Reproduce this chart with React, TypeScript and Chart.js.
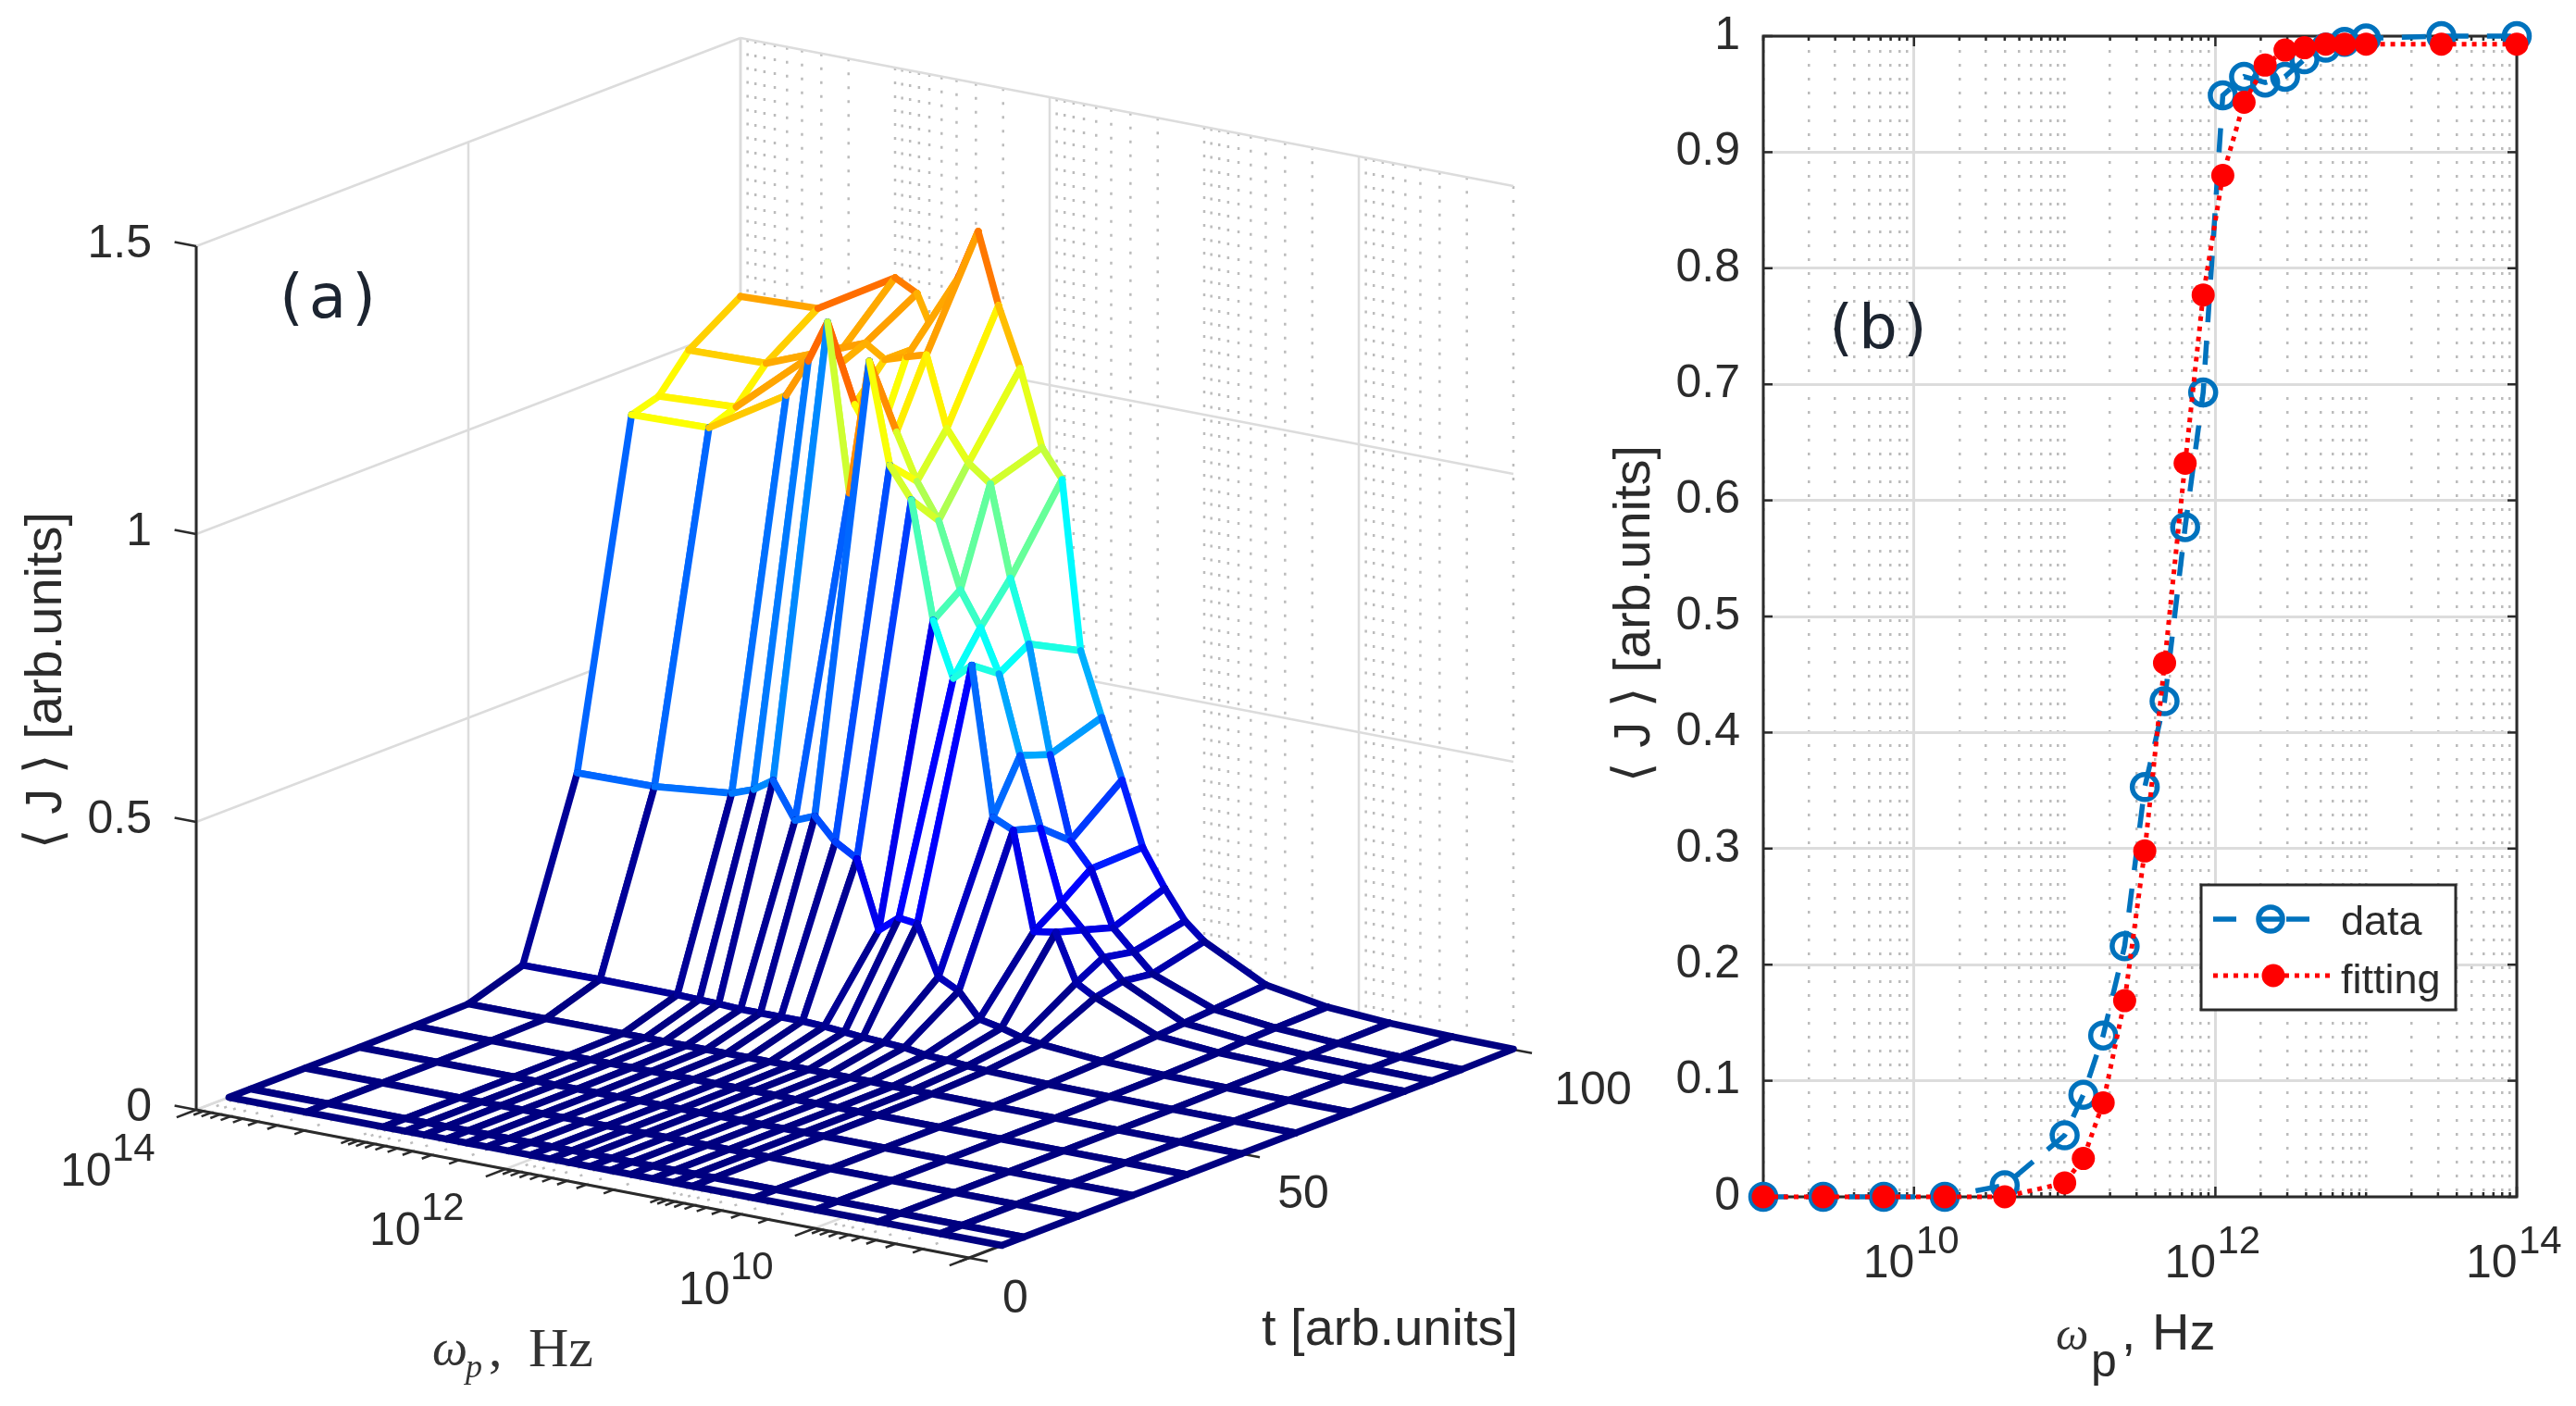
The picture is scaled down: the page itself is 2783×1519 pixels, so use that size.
import React, { useEffect, useRef } from "react";
import { Chart, registerables } from "chart.js";

Chart.register(...registerables);

// ---------- data ----------
const wpHz = [1e9, 2.5e9, 6.3e9, 1.6e10, 4e10, 1e11, 1.33e11, 1.8e11, 2.5e11, 3.4e11, 4.6e11, 6.3e11, 8.3e11, 1.12e12, 1.55e12, 2.14e12, 2.9e12, 3.9e12, 5.4e12, 7.2e12, 1e13, 3.16e13, 1e14];
const tRows = [6, 10, 20, 30, 40, 50, 60, 70, 80, 85, 90.5, 100];

const jT6 = [0, 0, 0, 0, 0, 0, 0, 0, 0, 0, 0, 0, 0, 0, 0, 0, 0, 0, 0, 0, 0, 0, 0];
const jT10 = [0, 0, 0, 0, 0, 0, 0, 0, 0, 0, 0, 0, 0, 0, 0, 0, 0, 0, 0, 0, 0, 0, 0];
const jT20 = [0, 0, 0, 0, 0, 0, 0, 0, 0, 0, 0, 0, 0, 0, 0, 0, 0, 0, 0, 0, 0, 0, 0];
const jT30 = [0, 0, 0, 0, 0, 0, 0, 0, 0, 0, 0, 0, 0, 0, 0, 0, 0, 0, 0, 0, 0, 0, 0];
const jT40 = [0, 0, 0, 0, 0, 0, 0, 0, 0, 0, 0.001, 0.001, 0.001, 0.001, 0.001, 0.001, 0.001, 0.001, 0.001, 0.001, 0.001, 0.001, 0.001];
const jT50 = [0, 0, 0, 0, 0, 0.001, 0.001, 0.001, 0.002, 0.002, 0.002, 0.002, 0.003, 0.003, 0.003, 0.003, 0.003, 0.003, 0.003, 0.003, 0.003, 0.003, 0.003];
const jT60 = [0, 0, 0, 0.001, 0.002, 0.005, 0.007, 0.01, 0.012, 0.018, 0.02, 0.022, 0.025, 0.028, 0.03, 0.03, 0.03, 0.03, 0.032, 0.033, 0.034, 0.035, 0.034];
const jT70 = [0, 0, 0.001, 0.002, 0.006, 0.015, 0.02, 0.03, 0.038, 0.08, 0.098, 0.183, 0.187, 0.159, 0.276, 0.298, 0.336, 0.322, 0.384, 0.362, 0.348, 0.334, 0.332];
const jT80 = [0, 0, 0.002, 0.005, 0.014, 0.06, 0.079, 0.16, 0.154, 0.323, 0.339, 0.596, 0.567, 0.661, 0.863, 0.916, 1.09, 0.854, 1.144, 1.07, 1.003, 0.921, 0.918];
const jT85 = [0, 0.001, 0.003, 0.008, 0.018, 0.07, 0.105, 0.146, 0.186, 0.309, 0.428, 0.563, 0.637, 0.696, 0.809, 0.87, 0.949, 0.92, 0.983, 1.04, 1.056, 0.939, 0.932];
const jT90 = [0, 0.001, 0.004, 0.01, 0.022, 0.063, 0.095, 0.13, 0.225, 0.267, 0.41, 0.595, 0.703, 0.86, 0.889, 0.942, 1.063, 1.053, 1.041, 1.063, 1.048, 0.995, 0.992];
const jT100 = [0.001, 0.002, 0.005, 0.012, 0.03, 0.085, 0.114, 0.164, 0.228, 0.338, 0.44, 0.549, 0.84, 0.889, 1.019, 1.121, 1.243, 1.156, 1.04, 1.115, 1.135, 1.056, 1.051];
const surfaceJ = [jT6, jT10, jT20, jT30, jT40, jT50, jT60, jT70, jT80, jT85, jT90, jT100];

const dataValues = [0, 0, 0, 0, 0.01, 0.053, 0.088, 0.139, 0.216, 0.353, 0.427, 0.577, 0.693, 0.949, 0.965, 0.96, 0.965, 0.98, 0.99, 0.995, 0.998, 1, 1];
const fittingValues = [0, 0, 0, 0, 0, 0.012, 0.033, 0.081, 0.169, 0.298, 0.46, 0.632, 0.777, 0.88, 0.943, 0.975, 0.988, 0.99, 0.993, 0.993, 0.993, 0.993, 0.993];

const zTicks = [0, 0.5, 1, 1.5];
const zLabels = ["0", "0.5", "1", "1.5"];
const tTicks = [0, 50, 100];
const majorExponents = [14, 12, 10];
const minorMantissas = [2, 3, 4, 5, 6, 7, 8, 9];
const minorDecades = [9, 10, 11, 12, 13];

const SANS = '"Liberation Sans", Arial, sans-serif';
const SERIF = '"Liberation Serif", serif';
const DEJA = '"DejaVu Sans", sans-serif';
const INK = "#2b2b2b";
const GRID = "#dcdcdc";
const DOT = "#bcbcbc";

// ---------- 3-D view (orthographic) ----------
const px = (lg: number, t: number) => 212 + (835 * (14 - lg)) / 5 + 5.88 * t;
const py = (lg: number, t: number, j: number) => 1199 + (160 * (14 - lg)) / 5 - 2.25 * t - 622 * j;
const P = (lg: number, t: number, j: number) => ({ x: px(lg, t), y: py(lg, t, j) });

function jet(v: number) {
  const p = Math.max(0, Math.min(1, v / 1.48));
  const c = (d: number) => Math.round(255 * Math.max(0, Math.min(1, 1.5 - Math.abs(4 * p - d))));
  return `rgb(${c(3)},${c(2)},${c(1)})`;
}

function line3d(points: any[], color: string, width: number, dash: number[] = []) {
  return { data: points, showLine: true, borderColor: color, borderWidth: width, borderDash: dash, pointRadius: 0, fill: false, clip: false };
}

function buildLeftDatasets() {
  const out: any[] = [];
  const majors = [14, 12, 10];
  const minors: number[] = [];
  minorDecades.forEach((e) => minorMantissas.forEach((m) => minors.push(e + Math.log10(m))));
  minors.push(9, 11, 13);

  // minor dotted: back wall and floor
  minors.forEach((lg) => {
    out.push(line3d([P(lg, 100, 0), P(lg, 100, 1.5)], DOT, 2.5, [3, 12]));
    out.push(line3d([P(lg, 0, 0), P(lg, 100, 0)], DOT, 2.5, [3, 12]));
  });
  // major verticals on the back wall + floor
  majors.forEach((lg) => {
    out.push(line3d([P(lg, 100, 0), P(lg, 100, 1.5)], GRID, 2.5));
    out.push(line3d([P(lg, 0, 0), P(lg, 100, 0)], GRID, 2.5));
  });
  // z grid on both walls
  zTicks.forEach((z) => {
    out.push(line3d([P(14, 0, z), P(14, 100, z)], GRID, 2.5));
    out.push(line3d([P(14, 100, z), P(9, 100, z)], GRID, 2.5));
  });
  // t grid on the left wall and floor
  tTicks.forEach((t) => {
    out.push(line3d([P(14, t, 0), P(14, t, 1.5)], GRID, 2.5));
    out.push(line3d([P(14, t, 0), P(9, t, 0)], GRID, 2.5));
  });
  // axis lines
  out.push(line3d([P(14, 0, 0), P(14, 0, 1.5)], INK, 3));
  out.push(line3d([P(14, 0, 0), P(9, 0, 0)], INK, 3));
  out.push(line3d([P(9, 0, 0), P(9, 100, 0)], INK, 3));
  // ticks
  zTicks.forEach((z) => out.push(line3d([P(14, 0, z), P(14.14, 0, z)], INK, 2.5)));
  tTicks.forEach((t) => out.push(line3d([P(9, t, 0), P(8.88, t, 0)], INK, 2.5)));
  [...majors, 9].forEach((lg) => out.push(line3d([P(lg, 0, 0), P(lg, -3.6, 0)], INK, 2.5)));
  minors.forEach((lg) => out.push(line3d([P(lg, 0, 0), P(lg, -1.8, 0)], INK, 2.5)));

  // mesh cells, back to front, white faces hide what is behind them
  const lg = wpHz.map((v) => Math.log10(v));
  for (let i = tRows.length - 2; i >= 0; i--) {
    for (let k = wpHz.length - 2; k >= 0; k--) {
      const pts = [
        P(lg[k], tRows[i], surfaceJ[i][k]),
        P(lg[k + 1], tRows[i], surfaceJ[i][k + 1]),
        P(lg[k + 1], tRows[i + 1], surfaceJ[i + 1][k + 1]),
        P(lg[k], tRows[i + 1], surfaceJ[i + 1][k]),
        P(lg[k], tRows[i], surfaceJ[i][k]),
      ];
      const colors = [jet(surfaceJ[i][k]), jet(surfaceJ[i][k + 1]), jet(surfaceJ[i + 1][k]), jet(surfaceJ[i][k])];
      out.push({
        data: pts,
        showLine: true,
        cell: true,
        borderWidth: 7.5,
        borderColor: colors[0],
        borderJoinStyle: "round",
        borderCapStyle: "round",
        pointRadius: 0,
        fill: false,
        clip: false,
        segment: { borderColor: (ctx: any) => colors[ctx.p0DataIndex] },
      });
    }
  }
  // chart.js paints the highest index first
  return out.reverse();
}

function text(ctx: any, s: string, x: number, y: number, font: string, opts: any = {}) {
  ctx.save();
  ctx.font = font;
  ctx.fillStyle = opts.color || INK;
  ctx.textAlign = opts.align || "left";
  ctx.textBaseline = opts.baseline || "alphabetic";
  if (opts.spacing) ctx.letterSpacing = opts.spacing;
  if (opts.rotate) {
    ctx.translate(x, y);
    ctx.rotate(opts.rotate);
    ctx.fillText(s, 0, 0);
  } else {
    ctx.fillText(s, x, y);
  }
  ctx.restore();
}

const leftPlugin = {
  id: "leftView",
  beforeDatasetDraw(chart: any, args: any) {
    const ds = chart.data.datasets[args.index];
    if (!ds.cell) return;
    const ctx = chart.ctx;
    ctx.save();
    ctx.beginPath();
    args.meta.data.forEach((p: any, i: number) => (i ? ctx.lineTo(p.x, p.y) : ctx.moveTo(p.x, p.y)));
    ctx.closePath();
    ctx.fillStyle = "#ffffff";
    ctx.fill();
    ctx.restore();
  },
  afterDraw(chart: any) {
    const ctx = chart.ctx;
    const f = `50px ${SANS}`;
    zTicks.forEach((z, i) => {
      text(ctx, zLabels[i], 164, py(14, 0, z) - 2, f, { align: "right", baseline: "middle" });
    });
    majorExponents.forEach((e) => {
      const x = px(e, 0) - 147;
      const y = py(e, 0, 0) + 82;
      text(ctx, "10", x, y, f);
      text(ctx, String(e), x + 56, y - 27, `42px ${SANS}`);
    });
    tTicks.forEach((t) => {
      text(ctx, String(t), px(9, t) + (t === 100 ? 86 : t === 50 ? 67 : 50), py(9, t, 0) + 45, f, { align: "center", baseline: "middle" });
    });
    text(ctx, "t [arb.units]", 1363, 1453, `56px ${SANS}`);
    text(ctx, "\u27E8 J \u27E9 [arb.units]", 66, 735, `56px ${SANS}, ${DEJA}`, { rotate: -Math.PI / 2, align: "center" });
    text(ctx, "\u03C9", 467, 1474, `italic 54px ${SERIF}`, { color: "#333" });
    text(ctx, "p", 503, 1488, `italic 36px ${SERIF}`, { color: "#333" });
    text(ctx, ",", 528, 1476, `58px ${SERIF}`, { color: "#333" });
    text(ctx, "Hz", 571, 1476, `60px ${SERIF}`, { color: "#333" });
    text(ctx, "(a)", 357, 326, `66px ${DEJA}`, { align: "center", baseline: "middle", spacing: "6px", color: "#1c2430" });
  },
};

// ---------- right plot ----------
const BX = 1720;
const rightMinor: number[] = [];
minorDecades.forEach((e) => [1, ...minorMantissas].forEach((m) => rightMinor.push(m * 10 ** e)));
rightMinor.push(1e14);
const isMajor = (v: number) => majorExponents.some((e) => Math.abs(v / 10 ** e - 1) < 1e-6);

const rightPlugin = {
  id: "rightFrame",
  beforeDatasetsDraw(chart: any) {
    const { ctx, chartArea: a, scales } = chart;
    ctx.save();
    ctx.strokeStyle = INK;
    ctx.lineWidth = 2.5;
    const seg = (x0: number, y0: number, x1: number, y1: number) => {
      ctx.beginPath();
      ctx.moveTo(x0, y0);
      ctx.lineTo(x1, y1);
      ctx.stroke();
    };
    scales.y.ticks.forEach((t: any) => {
      const y = scales.y.getPixelForValue(t.value);
      seg(a.left, y, a.left + 10, y);
      seg(a.right, y, a.right - 10, y);
    });
    rightMinor.forEach((v) => {
      const x = scales.x.getPixelForValue(v);
      const len = isMajor(v) ? 11 : 5;
      seg(x, a.bottom, x, a.bottom - len);
      seg(x, a.top, x, a.top + len);
    });
    ctx.lineWidth = 3;
    ctx.strokeRect(a.left, a.top, a.right - a.left, a.bottom - a.top);
    ctx.restore();
  },
  afterDraw(chart: any) {
    const { ctx, scales } = chart;
    const f = `50px ${SANS}`;
    [10, 12, 14].forEach((e) => {
      const x = scales.x.getPixelForValue(10 ** e);
      text(ctx, "10", x - 55, 1380, f);
      text(ctx, String(e), x + 2, 1354, `42px ${SANS}`);
    });
    text(ctx, "\u27E8 J \u27E9 [arb.units]", 1782 - BX, 663, `56px ${SANS}, ${DEJA}`, { rotate: -Math.PI / 2, align: "center" });
    text(ctx, "\u03C9", 2221 - BX, 1458, `italic 50px ${SERIF}`, { color: "#333" });
    text(ctx, "p", 2259 - BX, 1487, `50px ${SANS}`);
    text(ctx, ",", 2292 - BX, 1458, `55px ${SANS}`);
    text(ctx, "Hz", 2325 - BX, 1458, `56px ${SANS}`);
    text(ctx, "(b)", 2032 - BX, 359, `66px ${DEJA}`, { align: "center", baseline: "middle", spacing: "6px", color: "#1c2430" });

    // legend box
    const ds = chart.data.datasets;
    const L = 2378 - BX, T = 956, W = 275, H = 135;
    ctx.save();
    ctx.fillStyle = "#fff";
    ctx.fillRect(L, T, W, H);
    ctx.strokeStyle = INK;
    ctx.lineWidth = 3;
    ctx.strokeRect(L, T, W, H);
    const y1 = 993, y2 = 1054;
    ctx.strokeStyle = ds[0].borderColor;
    ctx.lineWidth = 5.5;
    ctx.setLineDash([25, 54]);
    ctx.beginPath();
    ctx.moveTo(2391 - BX, y1);
    ctx.lineTo(2518 - BX, y1);
    ctx.stroke();
    ctx.setLineDash([]);
    ctx.beginPath();
    ctx.arc(2453 - BX, y1, 13, 0, Math.PI * 2);
    ctx.stroke();
    ctx.beginPath();
    ctx.moveTo(2442 - BX, y1);
    ctx.lineTo(2464 - BX, y1);
    ctx.stroke();
    ctx.strokeStyle = ds[1].borderColor;
    ctx.lineWidth = 5;
    ctx.setLineDash([5, 6]);
    ctx.beginPath();
    ctx.moveTo(2391 - BX, y2);
    ctx.lineTo(2518 - BX, y2);
    ctx.stroke();
    ctx.setLineDash([]);
    ctx.fillStyle = ds[1].borderColor;
    ctx.beginPath();
    ctx.arc(2456 - BX, y2, 12.5, 0, Math.PI * 2);
    ctx.fill();
    ctx.restore();
    text(ctx, ds[0].label, 2529 - BX, 1010, `45px ${SANS}`);
    text(ctx, ds[1].label, 2529 - BX, 1073, `45px ${SANS}`);
  },
};

export default function App() {
  const leftRef = useRef<HTMLCanvasElement>(null);
  const rightRef = useRef<HTMLCanvasElement>(null);

  useEffect(() => {
    const left = new Chart(leftRef.current as any, {
      type: "scatter",
      data: { datasets: buildLeftDatasets() },
      options: {
        animation: false,
        responsive: false,
        devicePixelRatio: 1,
        layout: { padding: 0 },
        plugins: { legend: { display: false }, tooltip: { enabled: false } },
        scales: {
          x: { type: "linear", min: 0, max: 1800, display: false },
          y: { type: "linear", min: 0, max: 1519, reverse: true, display: false },
        },
      } as any,
      plugins: [leftPlugin],
    } as any);

    const right = new Chart(rightRef.current as any, {
      type: "scatter",
      data: {
        datasets: [
          {
            label: "data",
            order: 2,
            data: wpHz.map((x, i) => ({ x, y: dataValues[i] })),
            showLine: true,
            borderColor: "#0072BD",
            borderWidth: 5.5,
            borderDash: [26, 20],
            pointRadius: 13.5,
            pointBorderWidth: 5.5,
            pointBorderColor: "#0072BD",
            pointBackgroundColor: "rgba(0,0,0,0)",
            clip: false,
          },
          {
            label: "fitting",
            order: 1,
            data: wpHz.map((x, i) => ({ x, y: fittingValues[i] })),
            showLine: true,
            borderColor: "#ff0000",
            borderWidth: 5,
            borderDash: [5, 6],
            pointRadius: 12.5,
            pointBorderWidth: 0,
            pointBackgroundColor: "#ff0000",
            clip: false,
          },
        ],
      },
      options: {
        animation: false,
        responsive: false,
        devicePixelRatio: 1,
        layout: { padding: { top: 39, right: 64, left: 0, bottom: 0 } },
        plugins: { legend: { display: false }, tooltip: { enabled: false } },
        scales: {
          x: {
            type: "logarithmic",
            min: 1e9,
            max: 1e14,
            afterBuildTicks: (s: any) => {
              s.ticks = rightMinor.map((value) => ({ value, major: isMajor(value) }));
            },
            afterFit: (s: any) => {
              s.height = 1519 - 1293;
              s.paddingLeft = 0;
              s.paddingRight = 0;
            },
            ticks: { display: false, autoSkip: false },
            border: { display: false, dash: (c: any) => (c.tick && isMajor(c.tick.value) ? [] : [3, 12]) },
            grid: {
              drawTicks: false,
              color: (c: any) => (c.tick && isMajor(c.tick.value) ? GRID : DOT),
              lineWidth: (c: any) => (c.tick && isMajor(c.tick.value) ? 3 : 2.5),
            },
          },
          y: {
            type: "linear",
            min: 0,
            max: 1,
            afterFit: (s: any) => {
              s.width = 1905 - BX;
              s.paddingTop = 0;
              s.paddingBottom = 0;
            },
            ticks: {
              stepSize: 0.1,
              padding: 25,
              color: INK,
              font: { family: "Liberation Sans", size: 50 },
              callback: (v: any) => (v === 0 ? "0" : v === 1 ? "1" : Number(v).toFixed(1)),
            },
            border: { display: false },
            grid: { drawTicks: false, color: GRID, lineWidth: 3 },
          },
        },
      } as any,
      plugins: [rightPlugin],
    } as any);

    return () => {
      left.destroy();
      right.destroy();
    };
  }, []);

  return (
    <div style={{ position: "absolute", left: 0, top: 0, width: 2783, height: 1519, background: "#fff", overflow: "hidden" }}>
      <canvas ref={leftRef} width={1800} height={1519} style={{ position: "absolute", left: 0, top: 0, width: 1800, height: 1519, filter: "blur(0.7px)" }} />
      <canvas ref={rightRef} width={2783 - BX} height={1519} style={{ position: "absolute", left: BX, top: 0, width: 2783 - BX, height: 1519, filter: "blur(0.7px)" }} />
    </div>
  );
}
